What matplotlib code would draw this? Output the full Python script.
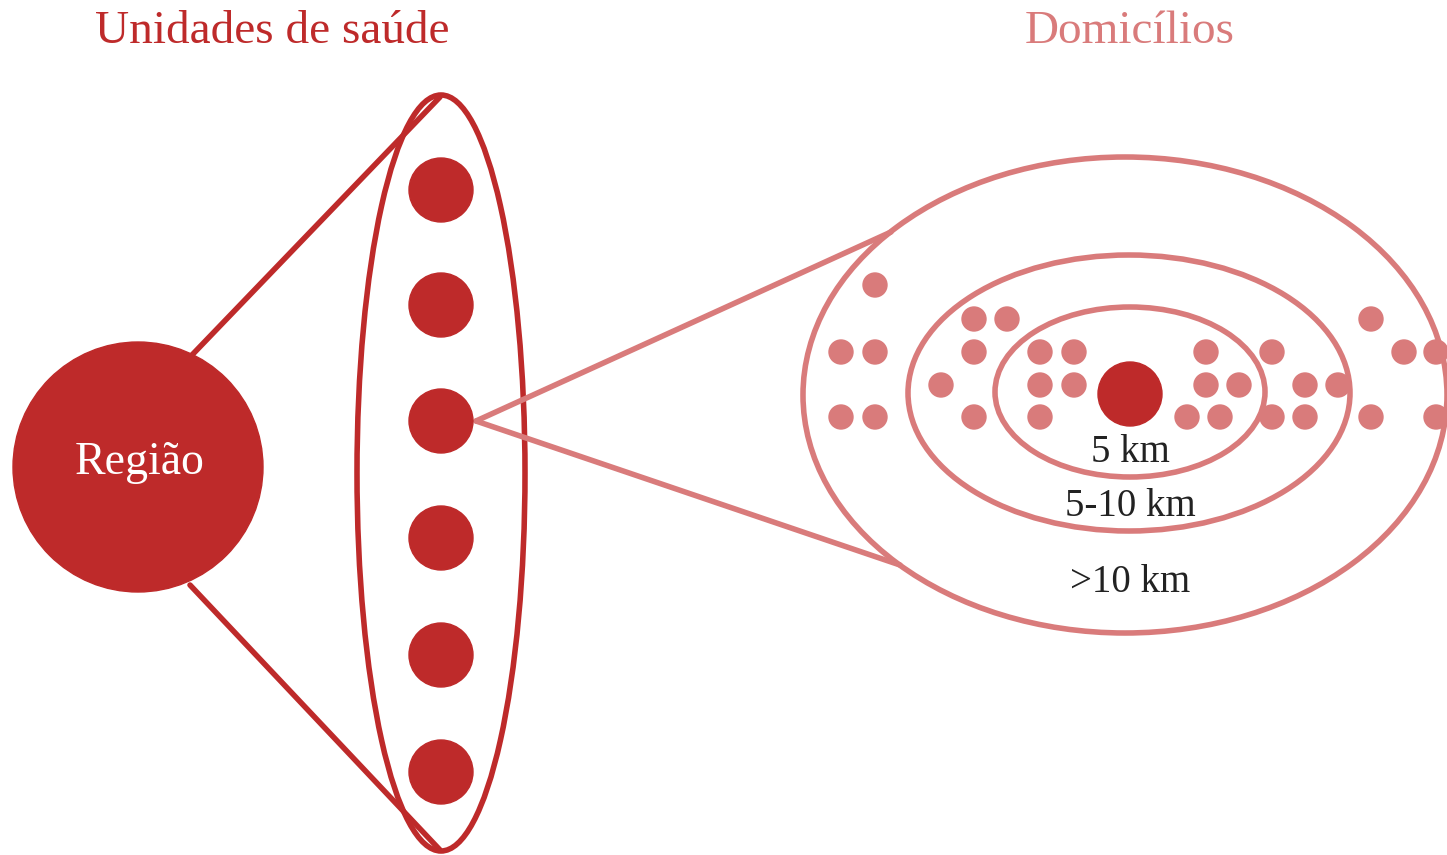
import matplotlib.pyplot as plt
from matplotlib.patches import Circle, Ellipse

# colours
dark_red = "#BE2A2A"
pink = "#D97B7B"

# titles and labels
left_title = "Unidades de saúde"
right_title = "Domicílios"
region_label = "Região"
ring_labels = ["5 km", "5-10 km", ">10 km"]
ring_label_y = [452, 507, 583]

# health units inside the left ellipse (pixel coords)
unit_x = 441
unit_y = [190, 305, 421, 538, 655, 772]

# concentric rings around the central unit: (cx, cy, half width, half height)
rings = [(1130, 392, 135, 85), (1129, 393, 221, 138), (1125, 395, 322, 238)]

# household dots
house_x = [875,
           974, 1007, 1371,
           841, 875, 974, 1040, 1074, 1206, 1272, 1404, 1436,
           941, 1040, 1074, 1206, 1239, 1305, 1338,
           841, 875, 974, 1040, 1187, 1220, 1272, 1305, 1371, 1436]
house_y = [285,
           319, 319, 319,
           352, 352, 352, 352, 352, 352, 352, 352, 352,
           385, 385, 385, 385, 385, 385, 385,
           417, 417, 417, 417, 417, 417, 417, 417, 417, 417]


fig = plt.figure(figsize=(14.47, 8.55), dpi=100)
ax = fig.add_axes([0, 0, 1, 1])
ax.set_xlim(0, 1447)
ax.set_ylim(855, 0)
ax.set_aspect("equal")
ax.axis("off")

serif = ["Liberation Serif", "DejaVu Serif"]
lw = 4

# titles
ax.text(272, 32, left_title, color=dark_red, fontsize=34, family=serif,
        ha="center", va="center")
ax.text(1130, 32, right_title, color=pink, fontsize=34, family=serif,
        ha="center", va="center")

# region circle and connecting lines
ax.plot([192, 440], [355, 97], color=dark_red, lw=lw, solid_capstyle="round")
ax.plot([190, 440], [585, 850], color=dark_red, lw=lw, solid_capstyle="round")
ax.add_patch(Circle((138, 467), 125, color=dark_red, zorder=3))
ax.text(140, 463, region_label, color="white", fontsize=33, family=serif,
        ha="center", va="center", zorder=4)

# health units ellipse
ax.add_patch(Ellipse((441, 473), 168, 756, fill=False, ec=dark_red, lw=lw))
for y in unit_y:
    ax.add_patch(Circle((unit_x, y), 32, color=dark_red, zorder=3))

# zoom lines to household rings
ax.plot([476, 891], [421, 232], color=pink, lw=lw, solid_capstyle="round")
ax.plot([476, 900], [421, 565], color=pink, lw=lw, solid_capstyle="round")

for cx, cy, hw, hh in rings:
    ax.add_patch(Ellipse((cx, cy), 2 * hw, 2 * hh, fill=False, ec=pink, lw=lw))

for x, y in zip(house_x, house_y):
    ax.add_patch(Circle((x, y), 12, color=pink, zorder=3))

ax.add_patch(Circle((1130, 394), 32, color=dark_red, zorder=3))

for label, y in zip(ring_labels, ring_label_y):
    ax.text(1130, y, label, color="#222222", fontsize=28, family=serif,
            ha="center", va="center")

plt.savefig("out.png", dpi=100)
